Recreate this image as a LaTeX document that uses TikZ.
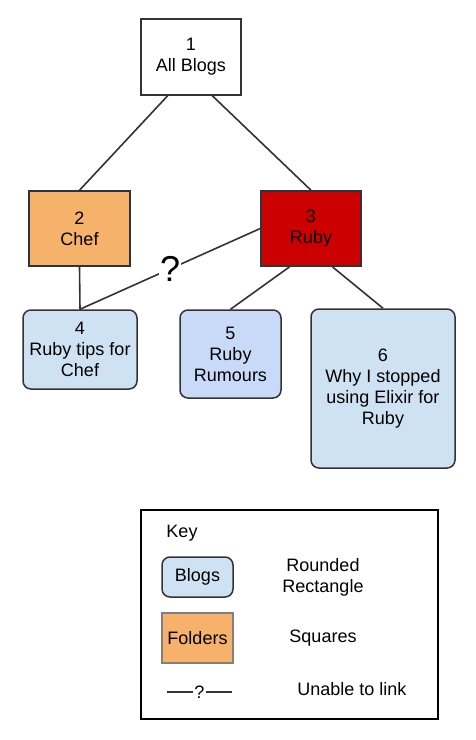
\documentclass[tikz,border=0pt]{standalone}
\usepackage{fontspec}
\setmainfont{Liberation Sans}
\usetikzlibrary{positioning,calc}

\definecolor{folderorange}{HTML}{F6B26B}
\definecolor{rubyred}{HTML}{CC0000}
\definecolor{blogblue}{HTML}{CFE2F3}
\definecolor{rumourblue}{HTML}{C9DAF8}
\definecolor{edgegray}{HTML}{333333}

\tikzset{
  folder/.style={draw=edgegray, line width=1.5pt, align=center, inner sep=0pt},
  blog/.style={folder, rounded corners=8pt, fill=blogblue},
  link/.style={draw=edgegray, line width=1.6pt}
}

\begin{document}
\begin{tikzpicture}[x=1pt, y=-1pt, font=\fontsize{18}{21}\selectfont]
    \useasboundingbox (0,0) rectangle (475,740);
    % tree of folders and blogs
    \node [folder, fill=white, minimum width=100pt, minimum height=76pt] (all) at (191,57)
      {1\\All Blogs};
    \node [folder, fill=folderorange, minimum width=101pt, minimum height=75pt] (chef) at (79.5,228.5)
      {2\\Chef};
    \node [folder, fill=rubyred, minimum width=100pt, minimum height=75pt] (ruby) at (311,228.5)
      {3\\Ruby};
    \node [blog, minimum width=114pt, minimum height=79pt] (tips) at (80,349.5)
      {4\\Ruby tips for\\Chef};
    \node [blog, fill=rumourblue, minimum width=101pt, minimum height=88pt] (rumours) at (230.5,354)
      {5\\Ruby\\Rumours};
    \node [blog, minimum width=144pt, minimum height=159pt] (elixir) at (383,388.5)
      {6\\Why I stopped\\using Elixir for\\Ruby};

    \draw [link] ($(all.south west)!0.27!(all.south east)$) -- (chef.north);
    \draw [link] ($(all.south west)!0.71!(all.south east)$) -- (ruby.north);
    \draw [link] (chef.south) -- (tips.north);
    \draw [link] (ruby.west) -- (tips.north)
      node [pos=0.5, fill=white, inner sep=1pt, font=\fontsize{36}{36}\selectfont] (unknown) {?};
    \draw [link] ($(ruby.south west)!0.29!(ruby.south east)$) -- (rumours.north);
    \draw [link] ($(ruby.south west)!0.71!(ruby.south east)$) -- (elixir.north);

    % key
    \node [draw=black, line width=2pt, minimum width=297pt, minimum height=209pt] (key) at (289.5,614.5) {};
    \node (keytitle) at (182,533) {Key};
    \node [blog, minimum width=71pt, minimum height=40pt] (keyblog) at (197.5,577) {Blogs};
    \node [folder, draw=gray, fill=folderorange, minimum width=71pt, minimum height=50pt] (keyfolder) at (197.5,638) {Folders};
    \node [align=center] (keyround) at (323,577) {Rounded\\Rectangle};
    \node (keysquare) at (323,638) {Squares};
    \coordinate (keyleft) at (167,692);
    \coordinate (keyright) at (232,692);
    \draw [link, line width=1.5pt] (keyleft) -- (keyright)
      node [midway, fill=white, inner sep=1.5pt] (keyq) {?};
    \node (keylink) at (352,689) {Unable to link};
  \end{tikzpicture}
\end{document}
